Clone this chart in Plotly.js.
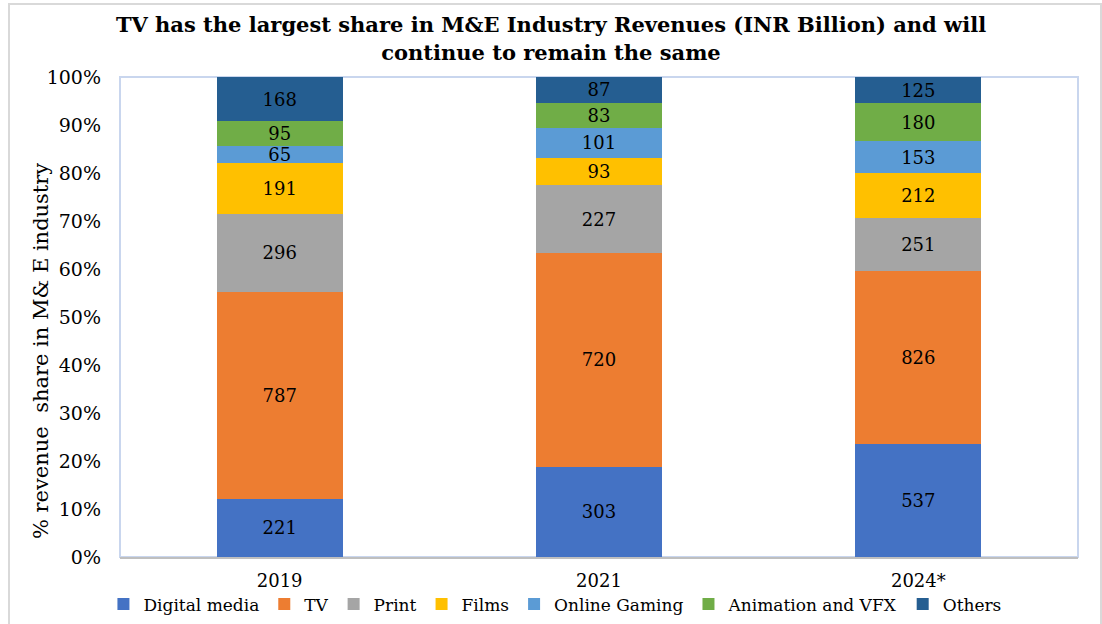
<!DOCTYPE html>
<html>
<head>
<meta charset="utf-8">
<script src="https://cdn.plot.ly/plotly-3.0.1.min.js"></script>
<style>
  html, body { margin: 0; padding: 0; background: #fff; }
  #chart { width: 1102px; height: 624px; }
  #frame {
    position: absolute; left: 8px; top: 3px; width: 1090px; height: 630px;
    border: 2px solid #d9d9d9; pointer-events: none;
  }
</style>
</head>
<body>
<div id="chart"></div>
<div id="frame"></div>
<script>
  const years = ["2019", "2021", "2024*"];

  const digitalMedia = [221, 303, 537];
  const tv = [787, 720, 826];
  const print = [296, 227, 251];
  const films = [191, 93, 212];
  const onlineGaming = [65, 101, 153];
  const animationVfx = [95, 83, 180];
  const others = [168, 87, 125];

  const seriesNames = ["Digital media", "TV", "Print", "Films", "Online Gaming", "Animation and VFX", "Others"];
  const seriesValues = [digitalMedia, tv, print, films, onlineGaming, animationVfx, others];
  const seriesColors = ["#4472c4", "#ed7d31", "#a5a5a5", "#ffc000", "#5b9bd5", "#70ad47", "#255e91"];

  const pctTicks = [0, 10, 20, 30, 40, 50, 60, 70, 80, 90, 100];

  const serif = "DejaVu Serif, serif";

  const traces = seriesNames.map((name, i) => ({
    type: "bar",
    name: name,
    x: years,
    y: seriesValues[i],
    text: seriesValues[i].map(String),
    textposition: "inside",
    insidetextanchor: "middle",
    textangle: 0,
    constraintext: "none",
    textfont: { family: serif, size: 18, color: "#000" },
    marker: { color: seriesColors[i], line: { width: 0 } },
    hoverinfo: "x+y+name"
  }));

  const layout = {
    barmode: "stack",
    barnorm: "percent",
    bargap: 0.605,
    width: 1102,
    height: 624,
    margin: { l: 120, r: 24, t: 77, b: 67 },
    paper_bgcolor: "#fff",
    plot_bgcolor: "#fff",
    font: { family: serif, color: "#000" },
    title: {
      text: "<b>TV has the largest share in M&E Industry Revenues (INR Billion) and will<br>continue to remain the same</b>",
      font: { family: serif, size: 21, color: "#000" },
      x: 0.5,
      xanchor: "center",
      yref: "container",
      y: 0.948,
      yanchor: "middle"
    },
    xaxis: {
      type: "category",
      tickfont: { family: serif, size: 18, color: "#000" },
      showline: true,
      linecolor: "#bfbfbf",
      linewidth: 2,
      ticks: "",
      ticklabelstandoff: 6,
      showgrid: false,
      zeroline: false
    },
    yaxis: {
      range: [0, 100],
      tickmode: "array",
      tickvals: pctTicks,
      ticktext: pctTicks.map((v) => v + "%"),
      tickfont: { family: serif, size: 19, color: "#000" },
      ticks: "",
      ticklabelstandoff: 18,
      showgrid: false,
      zeroline: false,
      showline: false
    },
    showlegend: true,
    legend: {
      orientation: "h",
      x: 0.454,
      xanchor: "center",
      yref: "container",
      y: 0.06,
      yanchor: "top",
      font: { family: serif, size: 17, color: "#000" },
      itemwidth: 30,
      tracegroupgap: 0,
      traceorder: "normal"
    },
    shapes: [{
      type: "rect",
      xref: "paper", yref: "paper",
      x0: 0, x1: 1, y0: 0, y1: 1,
      line: { color: "#c9d6ee", width: 2 },
      fillcolor: "rgba(0,0,0,0)",
      layer: "below"
    }],
    annotations: [{
      text: "% revenue  share in M& E industry",
      xref: "paper", yref: "paper",
      x: -0.083, y: 0.43,
      xanchor: "center", yanchor: "middle",
      textangle: -90,
      showarrow: false,
      font: { family: serif, size: 21, color: "#000" }
    }]
  };

  Plotly.newPlot("chart", traces, layout, { displayModeBar: false, staticPlot: true });
</script>
</body>
</html>
